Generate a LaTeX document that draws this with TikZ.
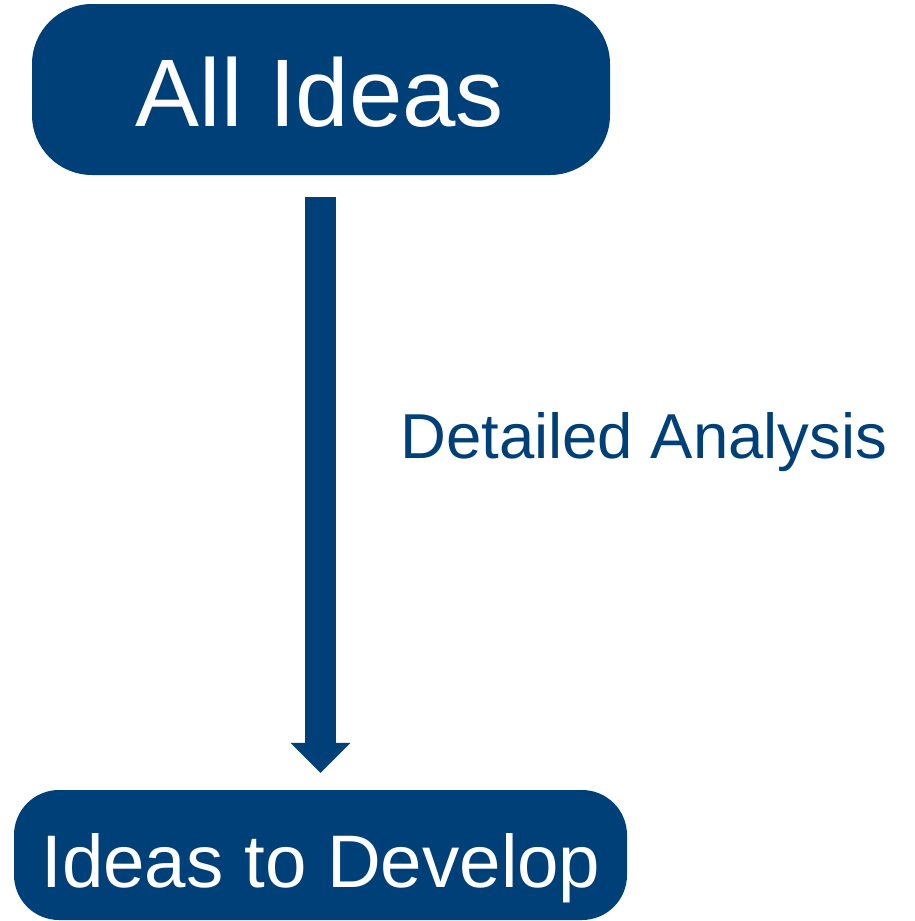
\documentclass[tikz,border=0pt]{standalone}
\usepackage{fontspec}
\setmainfont{Liberation Sans}
\usetikzlibrary{arrows.meta}
\definecolor{ideablue}{RGB}{0,64,121}
\tikzset{
  ideabox/.style={fill=ideablue, draw=none, inner sep=0pt, text=white},
  flowarrow/.style={draw=ideablue, line width=31pt, -{Triangle[width=60pt 0, length=30pt 0, line width=0pt]}},
  lbl/.style={text=ideablue, inner sep=0pt, anchor=base west}
}
\begin{document}
\begin{tikzpicture}[x=1pt, y=-1pt]
\useasboundingbox (0,0) rectangle (914,921);
\node[ideabox, minimum width=578pt, minimum height=171pt, rounded corners=60pt] (all) at (321,89.5) {};
\node[text=white, inner sep=0pt, anchor=base] (alltxt) at (320,126) {\fontsize{96}{110}\selectfont All Ideas};
\node[ideabox, minimum width=613pt, minimum height=130pt, rounded corners=45pt] (dev) at (320.5,855) {};
\node[text=white, inner sep=0pt, anchor=base] (devtxt) at (321,887) {\fontsize{74.5}{90}\selectfont Ideas to Develop};
\draw[flowarrow, shorten <=22pt, shorten >=17pt] (all.south -| dev.north) -- (dev.north);
\node[lbl] (ana) at (400,458) {\fontsize{63.5}{76}\selectfont Detailed Analysis};
\end{tikzpicture}
\end{document}
